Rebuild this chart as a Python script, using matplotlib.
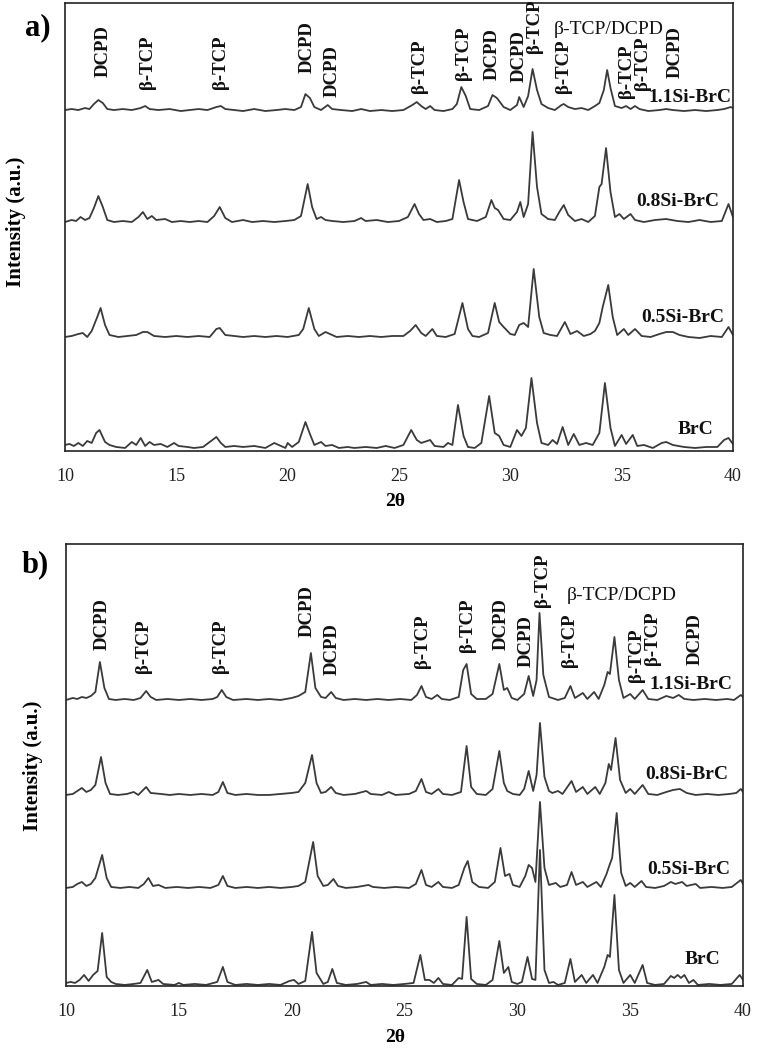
import numpy as np
import matplotlib
matplotlib.use("Agg")
import matplotlib.pyplot as plt

plt.rcParams['font.family'] = ['Liberation Serif', 'DejaVu Serif']

samples = ["1.1Si-BrC", "0.8Si-BrC", "0.5Si-BrC", "BrC"]

# ---------- panel a) : (2theta, intensity above own baseline) ----------
a_11 = [(10.0, 0), (10.3, 1), (10.6, 0), (10.9, 2), (11.1, 1), (11.3, 6), (11.5, 10), (11.7, 7), (11.9, 1),
        (12.2, 0), (12.6, 1), (13.0, 0), (13.4, 2), (13.6, 4), (13.8, 1), (14.2, 0), (14.7, 1), (15.2, -1),
        (15.6, 0), (16.0, 1), (16.4, 0), (16.8, 3), (17.0, 4), (17.2, 1), (17.6, 0), (18.0, -1), (18.5, 1),
        (19.0, -1), (19.5, 0), (19.9, 1), (20.3, 0), (20.6, 3), (20.8, 16), (21.0, 12), (21.2, 3), (21.5, 0),
        (21.8, 5), (22.0, 1), (22.4, 0), (22.9, -1), (23.3, 1), (23.7, -1), (24.2, 0), (24.7, -1), (25.2, 0),
        (25.6, 5), (25.8, 8), (26.0, 4), (26.2, 1), (26.4, 4), (26.6, 0), (27.0, -1), (27.4, 1), (27.6, 6),
        (27.8, 23), (28.0, 14), (28.2, 1), (28.6, 0), (29.0, 4), (29.2, 15), (29.4, 12), (29.7, 3), (30.0, 0),
        (30.3, 5), (30.4, 13), (30.6, 3), (30.8, 14), (31.0, 41), (31.2, 20), (31.4, 6), (31.7, 2), (32.0, 0),
        (32.3, 5), (32.4, 6), (32.6, 3), (32.9, 1), (33.2, 2), (33.5, 0), (33.8, 4), (34.0, 7), (34.2, 20),
        (34.35, 40), (34.5, 22), (34.7, 4), (35.0, 2), (35.2, 4), (35.4, 1), (35.6, 4), (35.8, 1), (36.2, -1),
        (36.7, 0), (37.0, 1), (37.3, 0), (37.8, -1), (38.3, 0), (38.8, -1), (39.3, 0), (39.6, 1), (39.9, 3),
        (40.0, 2)]
a_08 = [(10.0, 0), (10.3, 2), (10.5, 1), (10.7, 5), (10.9, 2), (11.1, 4), (11.3, 14), (11.5, 26), (11.7, 15),
        (11.9, 2), (12.2, 0), (12.6, 1), (13.0, 0), (13.3, 5), (13.5, 10), (13.7, 3), (13.9, 6), (14.1, 2),
        (14.5, 3), (14.8, 0), (15.2, 1), (15.6, 0), (16.0, 1), (16.4, 0), (16.7, 6), (16.95, 15), (17.2, 4),
        (17.5, 0), (18.0, 2), (18.4, 0), (18.9, 1), (19.4, 0), (19.9, 1), (20.3, 2), (20.6, 6), (20.9, 38),
        (21.1, 15), (21.3, 3), (21.5, 5), (21.7, 2), (22.0, 1), (22.5, 0), (23.0, 1), (23.3, 4), (23.5, 1),
        (24.0, 2), (24.5, 0), (25.0, 1), (25.4, 5), (25.7, 18), (25.9, 8), (26.1, 2), (26.4, 3), (26.7, 0),
        (27.1, 1), (27.4, 3), (27.7, 42), (27.9, 20), (28.1, 3), (28.5, 1), (28.9, 5), (29.15, 22), (29.3, 14),
        (29.45, 12), (29.7, 3), (30.0, 2), (30.3, 10), (30.45, 20), (30.6, 5), (30.8, 18), (31.0, 90), (31.2, 35),
        (31.4, 8), (31.7, 3), (32.0, 2), (32.2, 10), (32.4, 17), (32.6, 7), (32.9, 1), (33.2, 3), (33.5, 0),
        (33.8, 6), (34.0, 35), (34.1, 38), (34.3, 74), (34.5, 30), (34.7, 5), (34.9, 8), (35.1, 3), (35.4, 8),
        (35.6, 2), (36.0, 0), (36.5, 2), (37.0, 3), (37.5, 1), (38.0, 0), (38.5, 2), (39.0, 0), (39.5, 1),
        (39.8, 18), (40.0, 5)]
a_05 = [(10.0, 0), (10.3, 1), (10.6, 3), (10.8, 4), (11.0, 0), (11.2, 6), (11.45, 20), (11.6, 29), (11.8, 12),
        (12.0, 2), (12.4, 0), (12.8, 1), (13.2, 2), (13.5, 5), (13.7, 5), (14.0, 1), (14.5, 0), (15.0, 1),
        (15.5, 0), (16.0, 1), (16.5, 0), (16.8, 8), (16.95, 9), (17.2, 2), (17.6, 1), (18.0, 0), (18.5, 1),
        (19.0, 0), (19.5, 1), (20.0, 0), (20.5, 2), (20.7, 8), (20.95, 29), (21.2, 8), (21.4, 1), (21.7, 5),
        (21.9, 3), (22.2, 0), (22.7, 1), (23.2, 0), (23.7, 1), (24.2, 0), (24.7, 1), (25.2, 1), (25.5, 6),
        (25.75, 12), (26.0, 4), (26.2, 1), (26.5, 8), (26.7, 1), (27.1, 0), (27.5, 3), (27.85, 34), (28.1, 8),
        (28.3, 1), (28.6, 0), (29.0, 4), (29.3, 34), (29.5, 15), (29.7, 10), (30.0, 3), (30.2, 2), (30.4, 12),
        (30.6, 14), (30.8, 10), (31.05, 68), (31.3, 20), (31.5, 4), (31.8, 2), (32.1, 1), (32.45, 15), (32.7, 3),
        (33.0, 6), (33.3, 1), (33.6, 3), (33.8, 6), (34.0, 14), (34.15, 30), (34.4, 52), (34.6, 20), (34.8, 2),
        (35.1, 8), (35.3, 2), (35.6, 8), (35.9, 1), (36.3, 0), (36.7, 3), (37.0, 5), (37.3, 5), (37.6, 2),
        (38.0, 0), (38.5, -1), (39.0, 1), (39.5, 0), (39.8, 10), (40.0, 2)]
a_brc = [(10.0, 3), (10.2, 4), (10.4, 2), (10.6, 5), (10.8, 2), (11.0, 7), (11.2, 5), (11.4, 15), (11.55, 18),
         (11.8, 6), (12.0, 3), (12.3, 1), (12.7, 0), (13.0, 6), (13.2, 3), (13.4, 10), (13.6, 2), (13.8, 6),
         (14.0, 3), (14.3, 4), (14.6, 1), (14.9, 5), (15.1, 2), (15.5, 1), (15.8, 0), (16.2, 1), (16.5, 6),
         (16.8, 11), (17.0, 5), (17.2, 1), (17.6, 2), (18.0, 1), (18.5, 2), (19.0, 0), (19.4, 5), (19.7, 2),
         (19.9, 0), (20.0, 5), (20.2, 1), (20.5, 6), (20.8, 26), (21.0, 14), (21.2, 3), (21.5, 6), (21.7, 2),
         (22.0, 3), (22.3, 0), (22.7, 1), (23.0, 0), (23.5, 1), (24.0, 0), (24.4, 2), (24.8, 0), (25.2, 3),
         (25.55, 18), (25.8, 8), (26.0, 5), (26.4, 8), (26.6, 2), (27.0, 1), (27.2, 5), (27.4, 3), (27.65, 43),
         (27.9, 12), (28.1, 1), (28.4, 0), (28.7, 5), (29.05, 52), (29.3, 15), (29.5, 12), (29.7, 3), (30.0, 1),
         (30.3, 18), (30.5, 12), (30.7, 20), (30.95, 70), (31.2, 25), (31.4, 5), (31.7, 3), (31.9, 8), (32.1, 4),
         (32.35, 21), (32.6, 3), (32.85, 14), (33.1, 3), (33.4, 5), (33.7, 3), (34.0, 15), (34.25, 65), (34.5, 20),
         (34.7, 2), (35.0, 13), (35.2, 4), (35.5, 13), (35.7, 2), (36.0, 3), (36.4, 0), (36.8, 5), (37.0, 6),
         (37.3, 3), (37.8, 1), (38.3, 0), (38.8, 1), (39.3, 1), (39.6, 8), (39.8, 10), (40.0, 4)]

# ---------- panel b) ----------
b_11 = [(10.0, 0), (10.3, 2), (10.5, 1), (10.7, 3), (10.9, 2), (11.1, 4), (11.3, 8), (11.5, 38), (11.7, 12),
        (11.9, 1), (12.2, 0), (12.6, 1), (13.0, 0), (13.3, 2), (13.55, 9), (13.75, 3), (14.0, 0), (14.5, 1),
        (15.0, 0), (15.5, 1), (16.0, 0), (16.5, 1), (16.7, 3), (16.9, 10), (17.1, 3), (17.4, 0), (18.0, 1),
        (18.5, 0), (19.0, 1), (19.5, 0), (20.0, 2), (20.3, 4), (20.6, 8), (20.85, 47), (21.05, 12), (21.3, 3),
        (21.5, 2), (21.75, 8), (21.95, 2), (22.3, 0), (22.8, 1), (23.3, 0), (23.8, 1), (24.3, 0), (24.8, 1),
        (25.3, 0), (25.55, 5), (25.75, 14), (25.95, 3), (26.2, 1), (26.45, 5), (26.65, 1), (27.0, 0), (27.4, 3),
        (27.6, 30), (27.75, 36), (27.95, 6), (28.2, 1), (28.6, 1), (28.9, 6), (29.2, 36), (29.4, 10), (29.55, 12),
        (29.75, 2), (30.0, 0), (30.3, 6), (30.5, 24), (30.7, 4), (30.85, 20), (30.98, 87), (31.15, 25), (31.4, 3),
        (31.8, 0), (32.1, 2), (32.35, 14), (32.55, 2), (32.9, 7), (33.1, 1), (33.4, 8), (33.6, 1), (33.85, 15),
        (34.0, 28), (34.1, 26), (34.3, 63), (34.5, 20), (34.7, 2), (35.0, 6), (35.2, 1), (35.55, 10), (35.8, 1),
        (36.2, 0), (36.6, 4), (36.9, 2), (37.15, 5), (37.4, 1), (37.8, 0), (38.3, 1), (38.8, 0), (39.3, 1),
        (39.6, 0), (39.9, 5), (40.0, 3)]
b_08 = [(10.0, 0), (10.3, 1), (10.5, 4), (10.7, 7), (10.9, 3), (11.1, 5), (11.3, 10), (11.55, 38), (11.75, 12),
        (11.95, 1), (12.3, 0), (12.7, 1), (13.0, 3), (13.2, 0), (13.55, 8), (13.75, 2), (14.2, 1), (14.6, 0),
        (15.0, 1), (15.5, 0), (16.0, 1), (16.5, 0), (16.75, 3), (16.95, 13), (17.15, 2), (17.5, 0), (18.0, 1),
        (18.5, 0), (19.0, 0), (19.5, 1), (20.0, 2), (20.3, 3), (20.6, 12), (20.9, 40), (21.1, 12), (21.3, 2),
        (21.5, 3), (21.75, 8), (21.95, 2), (22.3, 0), (22.8, 1), (23.3, 4), (23.5, 1), (24.0, 0), (24.3, 3),
        (24.6, 0), (25.2, 1), (25.5, 4), (25.75, 16), (25.95, 3), (26.2, 1), (26.5, 6), (26.7, 1), (27.1, 0),
        (27.5, 3), (27.75, 49), (27.95, 8), (28.2, 1), (28.6, 0), (28.9, 6), (29.2, 44), (29.4, 12), (29.55, 4),
        (29.8, 1), (30.1, 0), (30.3, 6), (30.5, 24), (30.7, 4), (30.85, 20), (31.0, 72), (31.2, 18), (31.4, 4),
        (31.55, 2), (31.8, 4), (32.0, 1), (32.4, 14), (32.6, 3), (32.9, 8), (33.1, 1), (33.45, 8), (33.65, 1),
        (33.9, 12), (34.05, 31), (34.15, 25), (34.35, 57), (34.55, 15), (34.8, 2), (35.0, 6), (35.2, 1),
        (35.55, 10), (35.8, 1), (36.2, 0), (36.6, 3), (36.9, 5), (37.2, 6), (37.5, 2), (37.9, 0), (38.4, 1),
        (38.9, 0), (39.4, 1), (39.7, 2), (39.9, 6), (40.0, 3)]
b_05 = [(10.0, 0), (10.3, 1), (10.5, 4), (10.7, 6), (10.9, 2), (11.1, 4), (11.3, 10), (11.6, 33), (11.8, 10),
        (12.0, 1), (12.4, 0), (12.8, 1), (13.2, 0), (13.45, 4), (13.65, 10), (13.85, 2), (14.1, 3), (14.4, 0),
        (14.9, 1), (15.4, 0), (15.9, 1), (16.4, 0), (16.75, 3), (16.95, 12), (17.15, 2), (17.5, 0), (18.0, 1),
        (18.5, 0), (19.0, 1), (19.5, 0), (20.0, 1), (20.3, 2), (20.6, 6), (20.95, 46), (21.15, 12), (21.4, 2),
        (21.6, 3), (21.85, 9), (22.05, 2), (22.4, 0), (22.9, 1), (23.4, 3), (23.6, 1), (24.1, 0), (24.6, 1),
        (25.2, 0), (25.5, 4), (25.75, 18), (25.95, 3), (26.2, 1), (26.5, 6), (26.7, 1), (27.1, 0), (27.4, 3),
        (27.65, 20), (27.8, 27), (28.0, 6), (28.3, 1), (28.7, 0), (29.0, 6), (29.25, 40), (29.45, 12),
        (29.65, 14), (29.8, 3), (30.1, 1), (30.35, 12), (30.5, 23), (30.65, 20), (30.8, 6), (31.0, 86),
        (31.2, 20), (31.4, 3), (31.7, 5), (31.9, 1), (32.2, 3), (32.4, 16), (32.6, 3), (32.9, 6), (33.1, 1),
        (33.5, 6), (33.7, 1), (33.95, 14), (34.1, 24), (34.2, 30), (34.4, 75), (34.6, 15), (34.8, 2), (35.0, 5),
        (35.2, 1), (35.5, 7), (35.7, 1), (36.1, 0), (36.5, 2), (36.8, 6), (37.0, 4), (37.3, 6), (37.5, 2),
        (37.9, 4), (38.1, 0), (38.6, 1), (39.1, 0), (39.5, 1), (39.9, 8), (40.0, 4)]
b_brc = [(10.0, 2), (10.2, 3), (10.4, 2), (10.6, 5), (10.8, 10), (11.0, 4), (11.2, 10), (11.4, 14), (11.6, 52),
         (11.8, 8), (12.0, 3), (12.2, 1), (12.6, 0), (13.0, 1), (13.3, 2), (13.6, 15), (13.8, 3), (14.1, 5),
         (14.3, 1), (14.8, 0), (15.0, 2), (15.2, 0), (15.7, 1), (16.2, 0), (16.7, 3), (16.95, 18), (17.15, 3),
         (17.5, 0), (18.0, 1), (18.5, 0), (19.0, 1), (19.5, 0), (19.9, 4), (20.1, 5), (20.3, 1), (20.6, 4),
         (20.9, 53), (21.1, 12), (21.4, 1), (21.6, 3), (21.8, 16), (22.0, 2), (22.4, 0), (22.9, 1), (23.3, 3),
         (23.5, 0), (24.0, 1), (24.5, 0), (25.0, 1), (25.4, 2), (25.7, 30), (25.9, 5), (26.1, 5), (26.3, 2),
         (26.5, 7), (26.7, 1), (27.1, 0), (27.4, 7), (27.55, 6), (27.75, 68), (27.95, 6), (28.2, 1), (28.6, 0),
         (28.9, 5), (29.2, 44), (29.4, 12), (29.6, 18), (29.75, 3), (30.0, 1), (30.2, 3), (30.45, 28), (30.65, 6),
         (30.8, 5), (31.0, 135), (31.2, 15), (31.4, 2), (31.6, 3), (31.8, 0), (32.1, 2), (32.35, 26), (32.55, 3),
         (32.85, 10), (33.05, 2), (33.35, 10), (33.55, 2), (33.85, 18), (34.0, 30), (34.1, 28), (34.3, 90),
         (34.5, 15), (34.7, 2), (35.0, 10), (35.2, 2), (35.55, 20), (35.75, 2), (36.1, 0), (36.5, 1), (36.8, 9),
         (36.95, 7), (37.1, 10), (37.25, 7), (37.4, 10), (37.6, 2), (37.8, 5), (38.0, 0), (38.5, 1), (39.0, 0),
         (39.5, 1), (39.85, 10), (40.0, 5)]

a_traces = [a_11, a_08, a_05, a_brc]
b_traces = [b_11, b_08, b_05, b_brc]
a_offsets = [341, 229, 114, 3]
b_offsets = [286, 191, 98, 1]

# phase labels: (text, 2theta, y of label foot)
a_phases = [("DCPD", 11.7, 374), ("β-TCP", 13.7, 362), ("β-TCP", 17.0, 362), ("DCPD", 20.9, 378),
            ("DCPD", 22.0, 354), ("β-TCP", 25.9, 358), ("β-TCP", 27.9, 371), ("DCPD", 29.2, 371),
            ("DCPD", 30.4, 369), ("β-TCP", 31.1, 398), ("β-TCP", 32.4, 358), ("β-TCP", 35.2, 353),
            ("β-TCP", 35.95, 361), ("DCPD", 37.4, 373)]
b_phases = [("DCPD", 11.6, 336), ("β-TCP", 13.45, 313), ("β-TCP", 16.85, 313), ("DCPD", 20.7, 349),
            ("DCPD", 21.8, 311), ("β-TCP", 25.8, 318), ("β-TCP", 27.8, 334), ("DCPD", 29.3, 336),
            ("DCPD", 30.4, 319), ("β-TCP", 31.1, 379), ("β-TCP", 32.3, 319), ("β-TCP", 35.3, 304),
            ("β-TCP", 36.0, 321), ("DCPD", 37.9, 321)]
a_mixed = (34.4, 422)
b_mixed = (34.6, 390)
# sample-name labels (right end 2theta, y)
a_names = [(39.95, 354), (39.4, 250), (39.6, 133), (39.1, 21)]
b_names = [(39.55, 301), (39.33, 211), (39.42, 116), (38.98, 26)]


def draw_panel(ax, traces, offsets, phases, mixed, names, ytop):
    for tr, off in zip(traces, offsets):
        arr = np.array(tr, dtype=float)
        ax.plot(arr[:, 0], arr[:, 1] + off, color='#3a3a3a', lw=1.3, solid_joinstyle='round')
    for txt, x, y in phases:
        ax.text(x, y, txt, rotation=90, ha='center', va='bottom', fontsize=13.5,
                fontweight='bold', color='#111111')
    ax.text(mixed[0], mixed[1], "β-TCP/DCPD", ha='center', va='center', fontsize=14, color='#111111')
    for name, (x, y) in zip(samples, names):
        ax.text(x, y, name, ha='right', va='center', fontsize=14, fontweight='bold', color='#111111')
    ax.set_xlim(10, 40)
    ax.set_ylim(0, ytop)
    ax.set_xticks([10, 15, 20, 25, 30, 35, 40])
    ax.set_yticks([])
    ax.tick_params(axis='x', length=0, pad=12, labelsize=13, labelcolor='#222222')
    for s in ax.spines.values():
        s.set_linewidth(1.2)
        s.set_color('#222222')


fig = plt.figure(figsize=(7.59, 10.5), dpi=100)
ax_a = fig.add_axes([0.0856, 0.5705, 0.8801, 0.4266])
ax_b = fig.add_axes([0.0870, 0.0610, 0.8920, 0.4209])

draw_panel(ax_a, a_traces, a_offsets, a_phases, a_mixed, a_names, 448)
draw_panel(ax_b, b_traces, b_offsets, b_phases, b_mixed, b_names, 442)

fig.text(395 / 759, 1 - 502 / 1050, "2θ", ha='center', va='center', fontsize=14, fontweight='bold')
fig.text(395 / 759, 1 - 1038 / 1050, "2θ", ha='center', va='center', fontsize=14, fontweight='bold')
fig.text(16 / 759, 1 - 222 / 1050, "Intensity (a.u.)", rotation=90, ha='center', va='center',
         fontsize=15, fontweight='bold')
fig.text(33 / 759, 1 - 766 / 1050, "Intensity (a.u.)", rotation=90, ha='center', va='center',
         fontsize=15, fontweight='bold')
fig.text(38 / 759, 1 - 28 / 1050, "a)", ha='center', va='center', fontsize=22, fontweight='bold')
fig.text(35 / 759, 1 - 565 / 1050, "b)", ha='center', va='center', fontsize=22, fontweight='bold')

fig.savefig("out.png", dpi=100)
